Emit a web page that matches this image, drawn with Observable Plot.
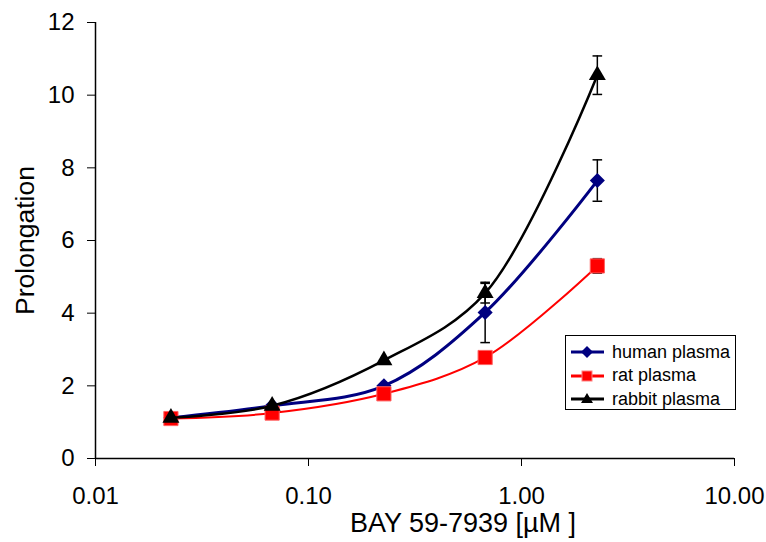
<!DOCTYPE html>
<html>
<head>
<meta charset="utf-8">
<script src="https://cdn.jsdelivr.net/npm/d3@7"></script>
<script src="https://cdn.jsdelivr.net/npm/@observablehq/plot@0.6"></script>
<style>
  html, body { margin: 0; padding: 0; background: #fff; }
  #wrap { position: relative; width: 766px; height: 542px; font-family: "Liberation Sans", Arial, sans-serif; }
  #legend { position: absolute; left: 565px; top: 335px; width: 171px; height: 75px; border: 1.5px solid #000; background: #fff; box-sizing: border-box; }
  .row { position: absolute; left: 0; height: 24px; display: flex; align-items: center; font-size: 18px; color: #000; white-space: nowrap; }
  .row svg { margin-left: 5px; margin-right: 8px; }
</style>
</head>
<body>
<div id="wrap"></div>
<script>
// ---- data ----
const conc = [0.0226, 0.0675, 0.226, 0.675, 2.27];
const human = [1.12, 1.45, 2.0, 4.02, 7.65];
const humanErr = [0, 0, 0, 0.83, 0.57];
const rat = [1.1, 1.25, 1.78, 2.78, 5.3];
const ratErr = [0, 0, 0, 0, 0.2];
const rabbit = [1.12, 1.45, 2.7, 4.55, 10.55];
const rabbitErr = [0, 0, 0, 0.27, 0.53];
const seriesNames = ["human plasma", "rat plasma", "rabbit plasma"];
const xTicks = [0.01, 0.1, 1, 10];
const yTicks = [0, 2, 4, 6, 8, 10, 12];
const xLabel = "BAY 59-7939 [µM ]";
const yLabel = "Prolongation";

const series = [
  {name: seriesNames[0], values: human, err: humanErr, color: "#000080", symbol: "diamond2", r: 6.8, width: 3},
  {name: seriesNames[1], values: rat, err: ratErr, color: "#FF0000", symbol: "square", r: 8, width: 2},
  {name: seriesNames[2], values: rabbit, err: rabbitErr, color: "#000000", symbol: "triangle", r: 6.3, width: 2.5}
];

const cap = { draw(ctx, size) { const w = 4.8; ctx.moveTo(-w, 0); ctx.lineTo(w, 0); } };

const marks = [];
for (const s of series) {
  const rows = conc.map((c, i) => ({x: c, y: s.values[i], e: s.err[i]}));
  const errRows = rows.filter(d => d.e > 0);
  marks.push(Plot.line(rows, {x: "x", y: "y", stroke: s.color, strokeWidth: s.width, curve: "catmull-rom"}));
  marks.push(Plot.ruleX(errRows, {x: "x", y1: d => d.y - d.e, y2: d => d.y + d.e, stroke: "#000", strokeWidth: 1.5}));
  marks.push(Plot.dot(errRows, {x: "x", y: d => d.y + d.e, symbol: cap, stroke: "#000", strokeWidth: 1.5, r: 3}));
  marks.push(Plot.dot(errRows, {x: "x", y: d => d.y - d.e, symbol: cap, stroke: "#000", strokeWidth: 1.5, r: 3}));
  marks.push(Plot.dot(rows, {x: "x", y: "y", symbol: s.symbol, r: s.r, fill: s.color,
    stroke: s.name === seriesNames[1] ? "#ff6060" : s.color, strokeWidth: s.name === seriesNames[1] ? 1 : 0}));
}

const chart = Plot.plot({
  width: 766,
  height: 542,
  marginLeft: 95,
  marginRight: 32,
  marginTop: 22,
  marginBottom: 84,
  style: {fontFamily: '"Liberation Sans", Arial, sans-serif', color: "#000", background: "#fff"},
  x: {type: "log", domain: [0.01, 10]},
  y: {domain: [0, 12]},
  marks: [
    Plot.axisY({ticks: yTicks, tickSize: 8, tickPadding: 13, fontSize: 24, label: null, tickFormat: d3.format("d")}),
    Plot.axisX({ticks: xTicks, tickSize: 8, tickPadding: 20, fontSize: 24, label: null, tickFormat: d3.format(".2f")}),
    Plot.ruleX([0.01], {stroke: "#000", strokeWidth: 1.5}),
    Plot.ruleY([0], {stroke: "#000", strokeWidth: 1.5}),
    Plot.text([yLabel], {frameAnchor: "left", dx: -70, rotate: -90, textAnchor: "middle", fontSize: 26.5, fill: "#000"}),
    Plot.text([xLabel], {frameAnchor: "bottom", dx: 48, dy: 73, fontSize: 27, fill: "#000"}),
    ...marks
  ]
});

const wrap = document.getElementById("wrap");
wrap.appendChild(chart);

// legend
const legend = document.createElement("div");
legend.id = "legend";
const legSym = {
  "diamond2": '<path d="M16,1 L22,7 L16,13 L10,7 Z" fill="#000080"/>',
  "square": '<rect x="11" y="2" width="10" height="10" fill="#FF0000" stroke="#ff8080" stroke-width="1"/>',
  "triangle": '<path d="M16,1 L22,11 L10,11 Z" fill="#000"/>'
};
series.forEach((s, i) => {
  const row = document.createElement("div");
  row.className = "row";
  row.style.top = (4 + i * 23.5) + "px";
  row.innerHTML = `<svg width="33" height="14" viewBox="0 0 33 14"><line x1="0" y1="7" x2="33" y2="7" stroke="${s.color}" stroke-width="3"/>${legSym[s.symbol]}</svg><span>${s.name}</span>`;
  legend.appendChild(row);
});
wrap.appendChild(legend);
</script>
</body>
</html>
